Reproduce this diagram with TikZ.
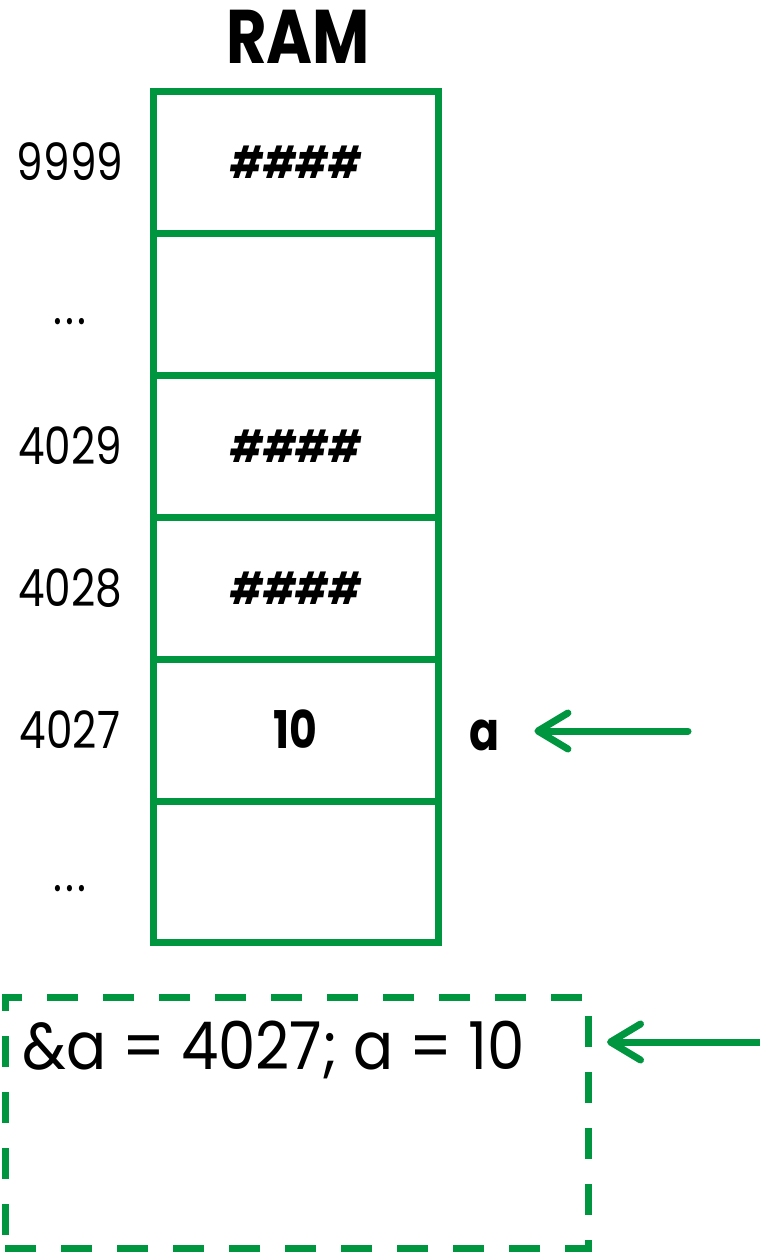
\documentclass[tikz,border=0pt]{standalone}
\usepackage{fontspec}
\setmainfont{Poppins}[FakeStretch=0.82]
\newfontfamily\widefont{Poppins}[FakeStretch=0.9]
\usetikzlibrary{arrows.meta}
\definecolor{ramgreen}{RGB}{0,150,64}

\tikzset{
  cell/.style={draw=ramgreen, line width=3.5pt, minimum width=142.25pt,
    minimum height=70.95pt, inner sep=0pt, outer sep=0pt},
  addr/.style={anchor=base, inner sep=0pt, font=\fontsize{25.7}{28}\selectfont},
  content/.style={anchor=base, inner sep=0pt, font=\bfseries\itshape\fontsize{22}{24}\selectfont},
  ptr/.style={draw=ramgreen, line width=3.5pt, line cap=round,
    -{Straight Barb[length=15pt, width=18pt, line cap=round, line join=round]}},
  note/.style={draw=ramgreen, line width=3.5pt, dash pattern=on 15.5pt off 12.5pt,
    minimum width=291.5pt, minimum height=125.5pt, inner sep=0pt, outer sep=0pt}
}
\newcommand\spaceddots{.\kern1.6pt.\kern1.6pt.}

\begin{document}
\begin{tikzpicture}[x=0.5pt, y=-0.5pt]
\useasboundingbox (0,0) rectangle (760,1253);

% title
\node[anchor=base, inner sep=0pt, font=\bfseries\fontsize{38}{40}\selectfont] (title) at (298,63) {RAM};

% memory cells, top to bottom
\foreach \i/\name in {0/c9999, 1/cdots, 2/c4029, 3/c4028, 4/c4027, 5/cdotsb} {
  \node[cell] (\name) at (295.75, {91.5 + 141.9*(\i + 0.5)}) {};
}

% addresses
\node[addr] (l9999) at ([yshift=-9pt]c9999.center -| 70,0) {9999};
\node[addr] (ldots) at ([yshift=-10pt]cdots.center -| 70,0) {\spaceddots};
\node[addr] (l4029) at ([yshift=-9pt]c4029.center -| 70,0) {4029};
\node[addr] (l4028) at ([yshift=-9pt]c4028.center -| 70,0) {4028};
\node[addr] (l4027) at ([yshift=-9pt]c4027.center -| 70,0) {4027};
\node[addr] (ldotsb) at ([yshift=-10pt]cdotsb.center -| 70,0) {\spaceddots};

% contents
\node[content] (v9999) at ([yshift=-8pt]c9999.center) {\#\#\#\#};
\node[content] (v4029) at ([yshift=-8pt]c4029.center) {\#\#\#\#};
\node[content] (v4028) at ([yshift=-8pt]c4028.center) {\#\#\#\#};
\node[anchor=base, inner sep=0pt, font=\bfseries\fontsize{26}{28}\selectfont] (v4027) at ([yshift=-9pt]c4027.center) {10};

% variable name and its pointer
\node[anchor=base, inner sep=0pt, font=\bfseries\fontsize{27}{30}\selectfont] (va) at (485,750) {a};
\coordinate (srca) at (688,731);
\draw[ptr, shorten >=17pt] (srca) -- (srca -| va.east);

% output box
\node[note] (out) at (296.5,1122.5) {};
\node[anchor=base west, inner sep=0pt, font=\widefont\fontsize{33}{36}\selectfont] (outtext) at (22,1069) {\&a = 4027; a = 10};
\coordinate (srcb) at (768,1042);
\draw[ptr, shorten >=9.5pt] (srcb) -- (srcb -| out.east);
\end{tikzpicture}
\end{document}
